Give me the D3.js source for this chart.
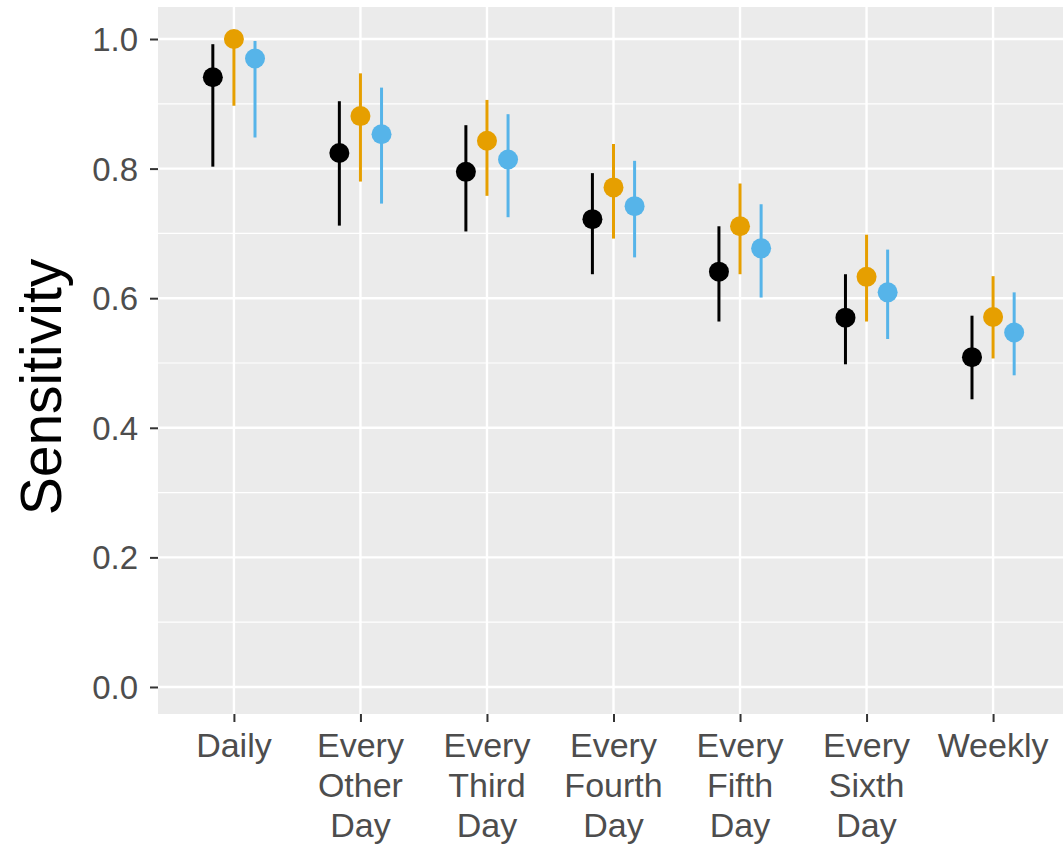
<!DOCTYPE html>
<html>
<head>
<meta charset="utf-8">
<script src="https://cdn.jsdelivr.net/npm/d3@7"></script>
<style>
  body { margin: 0; background: #fff; }
  svg text { font-family: "Liberation Sans", Arial, sans-serif; }
</style>
</head>
<body>
<div id="chart"></div>
<script>
// categories (label lines)
const categories = [
  ["Daily"],
  ["Every", "Other", "Day"],
  ["Every", "Third", "Day"],
  ["Every", "Fourth", "Day"],
  ["Every", "Fifth", "Day"],
  ["Every", "Sixth", "Day"],
  ["Weekly"]
];

// three series: estimate, lower, upper
const blackEst = [0.941, 0.824, 0.795, 0.722, 0.641, 0.570, 0.509];
const blackLo  = [0.803, 0.712, 0.703, 0.637, 0.564, 0.498, 0.444];
const blackHi  = [0.992, 0.904, 0.867, 0.793, 0.711, 0.637, 0.573];

const orangeEst = [1.000, 0.881, 0.843, 0.771, 0.711, 0.633, 0.571];
const orangeLo  = [0.897, 0.780, 0.758, 0.692, 0.637, 0.564, 0.507];
const orangeHi  = [1.000, 0.947, 0.906, 0.838, 0.777, 0.698, 0.634];

const blueEst = [0.970, 0.853, 0.814, 0.742, 0.677, 0.609, 0.547];
const blueLo  = [0.848, 0.746, 0.725, 0.663, 0.601, 0.537, 0.481];
const blueHi  = [0.997, 0.925, 0.884, 0.812, 0.745, 0.675, 0.609];

const yTicks = [0, 0.2, 0.4, 0.6, 0.8, 1.0];
const yMinor = [0.1, 0.3, 0.5, 0.7, 0.9];

const series = [
  { color: "#000000", est: blackEst, lo: blackLo, hi: blackHi, off: -1 },
  { color: "#E69F00", est: orangeEst, lo: orangeLo, hi: orangeHi, off: 0 },
  { color: "#56B4E9", est: blueEst, lo: blueLo, hi: blueHi, off: 1 }
];

const width = 1063, height = 844;
const panel = { left: 158, top: 7, right: 1069, bottom: 714 };

const svg = d3.select("#chart").append("svg")
  .attr("width", width)
  .attr("height", height);

const x = d3.scaleLinear().domain([0.4, categories.length + 0.6]).range([panel.left, panel.right]);
const y = d3.scaleLinear().domain([-0.0417, 1.0494]).range([panel.bottom, panel.top]);
const dodge = 1 / 6;

// panel background
svg.append("rect")
  .attr("x", panel.left).attr("y", panel.top)
  .attr("width", panel.right - panel.left)
  .attr("height", panel.bottom - panel.top)
  .attr("fill", "#EBEBEB");

const grid = svg.append("g");
grid.selectAll("line.minor").data(yMinor).enter().append("line")
  .attr("x1", panel.left).attr("x2", panel.right)
  .attr("y1", d => y(d)).attr("y2", d => y(d))
  .attr("stroke", "#fff").attr("stroke-width", 1.2);
grid.selectAll("line.major").data(yTicks).enter().append("line")
  .attr("x1", panel.left).attr("x2", panel.right)
  .attr("y1", d => y(d)).attr("y2", d => y(d))
  .attr("stroke", "#fff").attr("stroke-width", 2.4);
grid.selectAll("line.vert").data(categories).enter().append("line")
  .attr("x1", (d, i) => x(i + 1)).attr("x2", (d, i) => x(i + 1))
  .attr("y1", panel.top).attr("y2", panel.bottom)
  .attr("stroke", "#fff").attr("stroke-width", 2.4);

// y axis
const yAxis = svg.append("g").attr("transform", `translate(${panel.left},0)`)
  .call(d3.axisLeft(y).tickValues(yTicks).tickFormat(d3.format(".1f")).tickSize(8).tickPadding(12));
yAxis.select(".domain").remove();
yAxis.selectAll(".tick line").attr("stroke", "#333").attr("stroke-width", 2);
yAxis.selectAll(".tick text")
  .attr("fill", "#4D4D4D").attr("font-size", 33).attr("dy", "0.35em")
  .style("font-family", "'Liberation Sans', Arial, sans-serif");

// x axis
const xAxis = svg.append("g").attr("transform", `translate(0,${panel.bottom})`)
  .call(d3.axisBottom(x).tickValues(d3.range(1, categories.length + 1)).tickFormat("").tickSize(8));
xAxis.select(".domain").remove();
xAxis.selectAll(".tick line").attr("stroke", "#333").attr("stroke-width", 2);

const xLabels = svg.append("g");
categories.forEach((lines, i) => {
  const t = xLabels.append("text")
    .attr("x", x(i + 1))
    .attr("y", 757)
    .attr("text-anchor", "middle")
    .attr("fill", "#4D4D4D")
    .attr("font-size", 34);
  lines.forEach((ln, j) => {
    t.append("tspan").attr("x", x(i + 1)).attr("y", 757 + j * 40).text(ln);
  });
});

// y title
svg.append("text")
  .attr("transform", `translate(61,387) rotate(-90)`)
  .attr("text-anchor", "middle")
  .attr("font-size", 57)
  .attr("fill", "#000")
  .text("Sensitivity");

// marks
series.forEach(s => {
  const g = svg.append("g");
  const idx = d3.range(categories.length);
  g.selectAll("line").data(idx).enter().append("line")
    .attr("x1", i => x(i + 1 + s.off * dodge))
    .attr("x2", i => x(i + 1 + s.off * dodge))
    .attr("y1", i => y(s.lo[i]))
    .attr("y2", i => y(s.hi[i]))
    .attr("stroke", s.color)
    .attr("stroke-width", 3);
  g.selectAll("circle").data(idx).enter().append("circle")
    .attr("cx", i => x(i + 1 + s.off * dodge))
    .attr("cy", i => y(s.est[i]))
    .attr("r", 10)
    .attr("fill", s.color);
});
</script>
</body>
</html>
